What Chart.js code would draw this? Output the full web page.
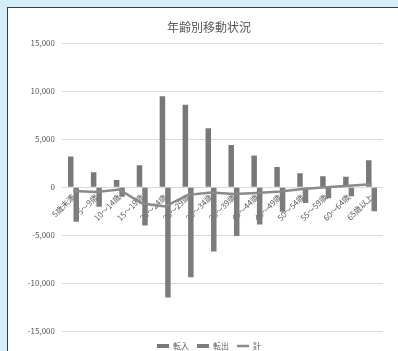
<!DOCTYPE html>
<html>
<head>
<meta charset="utf-8">
<script src="https://cdn.jsdelivr.net/npm/chart.js@4/dist/chart.umd.min.js"></script>
<style>
  html, body { margin: 0; padding: 0; width: 398px; height: 351px; overflow: hidden; background: #d4edf9; }
  #box { position: absolute; left: 7px; top: 7px; width: 410px; height: 360px; background: #fff; border-left: 1px solid #3a3a3a; border-top: 1px solid #3a3a3a; }
  #chart { position: absolute; left: 0; top: 0; }
</style>
</head>
<body>
<div id="box"><canvas id="chart" width="402" height="352"></canvas></div>
<script>
const ageGroups = ['5歳未満', '5～9歳', '10～14歳', '15～19歳', '20～24歳', '25～29歳', '30～34歳',
  '35～39歳', '40～44歳', '45～49歳', '50～54歳', '55～59歳', '60～64歳', '65歳以上'];
const moveIn = [3200, 1550, 750, 2300, 9500, 8600, 6150, 4400, 3300, 2100, 1450, 1150, 1100, 2800];
const moveOut = [-3600, -2050, -1000, -4000, -11500, -9400, -6700, -5100, -3900, -2550, -1650, -1150, -950, -2500];
const netChange = [-400, -500, -250, -1700, -2000, -800, -550, -700, -600, -450, -200, 0, 150, 300];
const yTicks = [-15000, -10000, -5000, 0, 5000, 10000, 15000];

const gray = '#595959';
const font = 'Noto Sans CJK JP';

new Chart(document.getElementById('chart').getContext('2d'), {
  data: {
    labels: ageGroups,
    datasets: [
      { type: 'bar', label: '転入', data: moveIn, backgroundColor: '#787878', order: 1, pointStyle: 'rect',
        categoryPercentage: 0.48, barPercentage: 1 },
      { type: 'bar', label: '転出', data: moveOut, backgroundColor: '#7c7c7c', order: 2, pointStyle: 'rect',
        categoryPercentage: 0.48, barPercentage: 1 },
      { type: 'line', label: '計', data: netChange, borderColor: '#8a8a8a', backgroundColor: '#8a8a8a',
        borderWidth: 2.5, pointRadius: 0, tension: 0, order: 0, pointStyle: 'line' }
    ]
  },
  options: {
    responsive: false,
    animation: false,
    layout: { padding: 0 },
    plugins: {
      title: { display: true, text: '年齢別移動状況', color: gray,
        font: { family: font, size: 12, weight: 'normal' }, padding: { top: 12, bottom: 9 } },
      legend: { position: 'bottom',
        title: { display: true, text: ' ', font: { size: 3, lineHeight: 1 }, padding: 0 },
        labels: { usePointStyle: true, pointStyleWidth: 12, boxHeight: 4, color: gray, padding: 8,
          font: { family: font, size: 8 }, sort: (a, b) => a.datasetIndex - b.datasetIndex } },
      tooltip: { enabled: false }
    },
    scales: {
      x: {
        position: { y: 0 },
        grid: { display: false, drawTicks: false },
        border: { display: false },
        ticks: { autoSkip: false, maxRotation: 45, minRotation: 45, color: gray, padding: 5,
          font: { family: font, size: 8 } }
      },
      y: {
        min: -15000, max: 15000,
        afterBuildTicks: s => { s.ticks = yTicks.map(v => ({ value: v })); },
        afterFit: s => { s.width = 54; },
        grid: { color: '#d9d9d9', drawTicks: false },
        border: { display: false },
        ticks: { color: gray, padding: 7, font: { family: font, size: 8 },
          callback: v => v.toLocaleString('en-US') }
      },
      // empty right-hand axis: only reserves the space right of the plot
      yRight: {
        position: 'right',
        min: -15000, max: 15000,
        afterFit: s => { s.width = 27; },
        grid: { display: false },
        border: { display: false },
        ticks: { display: false }
      }
    }
  }
});
</script>
</body>
</html>
